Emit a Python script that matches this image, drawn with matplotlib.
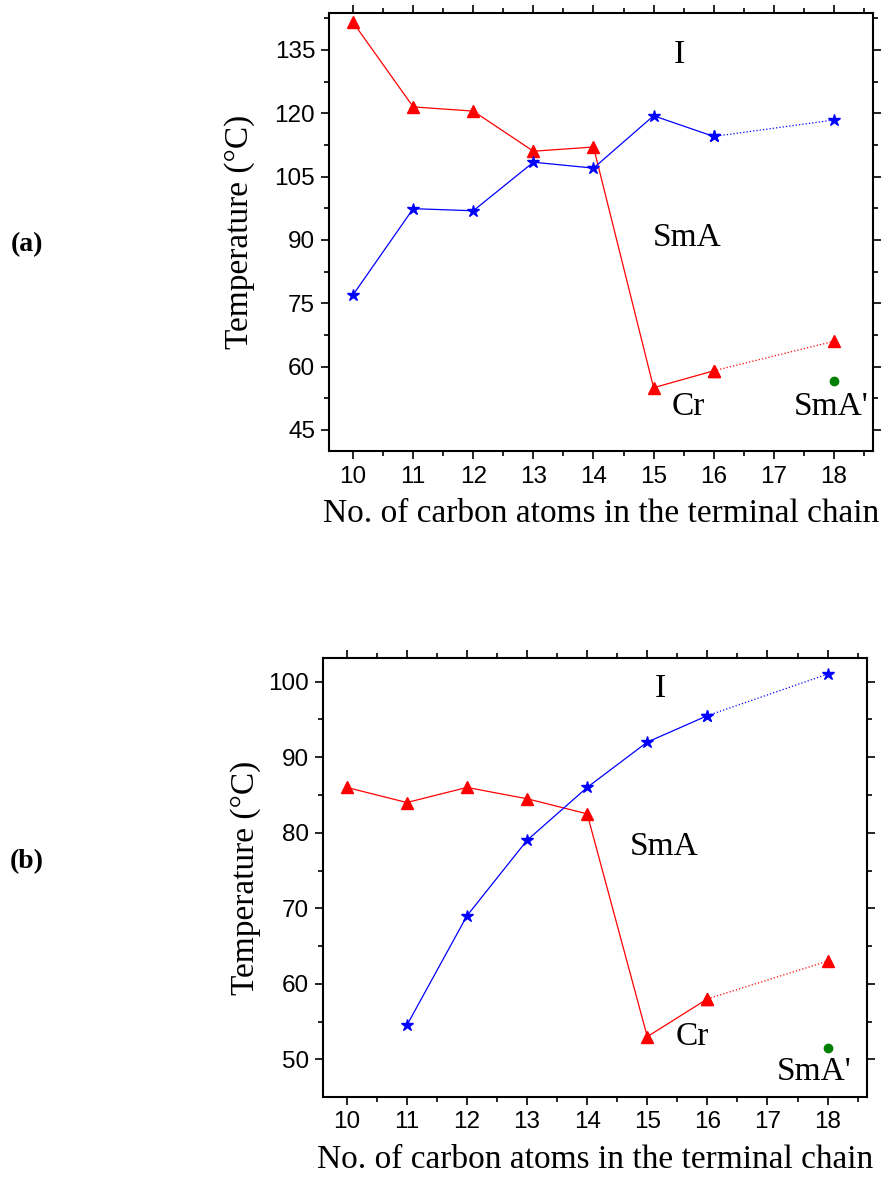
import matplotlib
matplotlib.use("Agg")
import matplotlib.pyplot as plt
from matplotlib.ticker import MultipleLocator

# ---- data ----
carbons = [10, 11, 12, 13, 14, 15, 16, 18]

# panel (a)
a_cr = [141.5, 121.5, 120.5, 111.0, 112.0, 55.0, 59.0, 66.0]   # red triangles
a_iso = [77.0, 97.4, 96.9, 108.4, 107.0, 119.4, 114.5, 118.4]  # blue stars
a_sma2 = 56.6                                                   # green dot at 18

# panel (b)
b_cr = [86.0, 84.0, 86.0, 84.5, 82.5, 53.0, 58.0, 63.0]
b_carbons_iso = [11, 12, 13, 14, 15, 16, 18]
b_iso = [54.5, 69.0, 79.0, 86.0, 92.0, 95.5, 101.0]
b_sma2 = 51.5

xticks = [10, 11, 12, 13, 14, 15, 16, 17, 18]
a_yticks = [45, 60, 75, 90, 105, 120, 135]
b_yticks = [50, 60, 70, 80, 90, 100]

serif = ["Liberation Serif", "DejaVu Serif"]
sans = ["Liberation Sans", "DejaVu Sans"]

fig = plt.figure(figsize=(8.85, 11.78), dpi=100)

def draw_panel(ax, xc, cr, xi, iso, sma2, ylim, yticks, yminor, labels, ylabelpad):
    red, blue, green = "#FF0000", "#0000FF", "#008000"
    # solid parts up to 16, dotted 16->18
    n = len(cr)
    ax.plot(xc[:n-1], cr[:n-1], color=red, lw=0.9, marker="^", ms=8, zorder=3)
    ax.plot(xc[n-2:], cr[n-2:], color=red, lw=0.9, ls=":", marker="^", ms=8, zorder=3)
    m = len(iso)
    ax.plot(xi[:m-1], iso[:m-1], color=blue, lw=0.9, marker="*", ms=9, zorder=3)
    ax.plot(xi[m-2:], iso[m-2:], color=blue, lw=0.9, ls=":", marker="*", ms=9, zorder=3)
    ax.plot([xc[-1]], [sma2], color=green, marker="o", ms=6, ls="none", zorder=3)

    ax.set_xlim(9.6, 18.65)
    ax.set_ylim(*ylim)
    ax.set_xticks(xticks)
    ax.set_yticks(yticks)
    ax.xaxis.set_minor_locator(MultipleLocator(0.5))
    ax.yaxis.set_minor_locator(MultipleLocator(yminor))
    ax.tick_params(which="both", direction="out", top=True, right=True,
                   labeltop=False, labelright=False, width=1.2)
    ax.tick_params(which="major", length=6)
    ax.tick_params(which="minor", length=3.5)
    ax.tick_params(axis="x", which="major", pad=4.5)
    ax.tick_params(axis="y", which="major", pad=4)
    for lab in ax.get_xticklabels() + ax.get_yticklabels():
        lab.set_fontfamily(sans)
        lab.set_fontsize(17.5)
    for s in ax.spines.values():
        s.set_linewidth(1.5)
    ax.set_ylabel("Temperature (°C)", fontfamily=serif, fontsize=24, labelpad=ylabelpad)
    ax.set_xlabel("No. of carbon atoms in the terminal chain", fontfamily=serif,
                  fontsize=24, labelpad=8)
    for (tx, ty, t) in labels:
        ax.text(tx, ty, t, fontfamily=serif, fontsize=24, ha="center", va="center")

ax1 = fig.add_axes([0.3718, 0.6171, 0.6146, 0.3721])
draw_panel(ax1, carbons, a_cr, carbons, a_iso, a_sma2, (40, 143.8), a_yticks, 7.5,
           [(15.42, 133.8, "I"), (15.55, 90.4, "SmA"), (15.58, 50.6, "Cr"),
            (17.95, 50.6, "SmA'")], 14)

ax2 = fig.add_axes([0.3646, 0.0690, 0.6147, 0.3722])
draw_panel(ax2, carbons, b_cr, b_carbons_iso, b_iso, b_sma2, (45.05, 103.1), b_yticks, 5,
           [(15.21, 99.1, "I"), (15.28, 78.1, "SmA"), (15.75, 53.0, "Cr"),
            (17.78, 48.4, "SmA'")], 5)

fig.text(27 / 885, 1 - 245 / 1178, "(a)", fontfamily=serif, fontsize=20,
         fontweight="bold", ha="center", va="center")
fig.text(27 / 885, 1 - 862 / 1178, "(b)", fontfamily=serif, fontsize=20,
         fontweight="bold", ha="center", va="center")

fig.savefig("out.png", dpi=100)
